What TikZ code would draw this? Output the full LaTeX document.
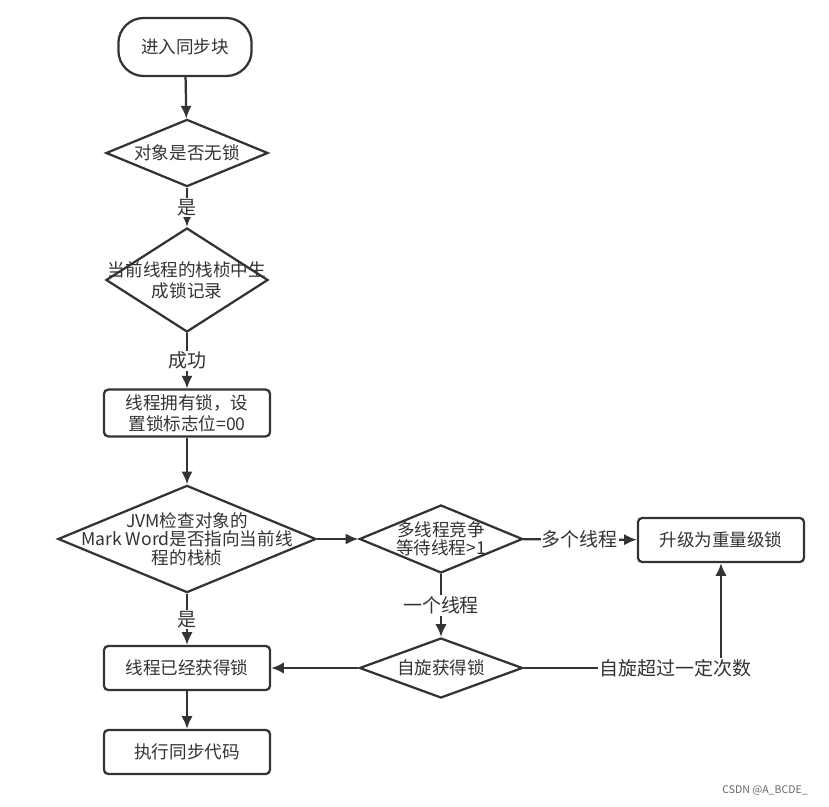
\documentclass[tikz,border=0pt]{standalone}
\usepackage{fontspec}
\setmainfont{Noto Sans CJK SC}
\usetikzlibrary{shapes.geometric,positioning,arrows.meta}
\tikzset{>={Latex[length=9pt,width=8pt]}}
\colorlet{linec}{black!80}
\tikzset{
  box/.style = {draw=linec,line width=1.6pt,rounded corners=3pt,minimum width=4.15cm,minimum height=1.1cm,align=center},
  decide/.style = {draw=linec,line width=1.6pt,shape=diamond,inner sep=0pt},
  flow/.style = {->,draw=linec,line width=1.6pt},
  tag/.style = {fill=white,inner sep=1pt,text=linec,font=\fontsize{13.5}{15}\selectfont}
}

\begin{document}
\begin{tikzpicture}[x=0.025cm,y=-0.025cm,font=\fontsize{12.5}{15}\selectfont,text=linec]
  \useasboundingbox (0,0) rectangle (829,807);
  \node[box,rounded corners=18pt,minimum width=3.33cm,minimum height=1.45cm] (start) at (185,47) {进入同步块};
  \node[decide,minimum width=4.05cm,minimum height=1.68cm,label=center:{对象是否无锁}] (free) at (187,153) {};
  \node[decide,minimum width=4.05cm,minimum height=2.6cm,label={[align=center]center:当前线程的栈桢中生\\成锁记录}] (record) at (187,280) {};
  \node[box] (own) at (187,413) {线程拥有锁，设\\置锁标志位=00};
  \node[decide,minimum width=6.45cm,minimum height=2.68cm,label={[align=center,font=\fontsize{12.5}{13}\selectfont]center:JVM检查对象的\\Mark Word是否指向当前线\\程的栈桢}] (check) at (187,539) {};
  \node[decide,minimum width=4.08cm,minimum height=1.7cm,label={[align=center,font=\fontsize{12.5}{13}\selectfont]center:多线程竞争\\等待线程>1}] (race) at (441,539) {};
  \node[box] (heavy) at (721,540) {升级为重量级锁};
  \node[box] (got) at (187,668) {线程已经获得锁};
  \node[decide,minimum width=4.08cm,minimum height=1.5cm,label=center:{自旋获得锁}] (spin) at (441,668) {};
  \node[box] (run) at (187,752) {执行同步代码};
  \coordinate (corner) at (721,668);

  \draw[flow] (start) -- (free);
  \draw[flow] (free) -- node[tag] {是} (record);
  \draw[flow] (record) -- node[tag] {成功} (own);
  \draw[flow] (own) -- (check);
  \draw[flow] (check) -- (race);
  \draw[flow] (race) -- node[tag] {多个线程} (heavy);
  \draw[flow] (check) -- node[tag] {是} (got);
  \draw[flow] (race) -- node[tag] {一个线程} (spin);
  \draw[flow] (spin) -- (got);
  \draw[flow] (spin) -- (corner) node[tag,pos=0.77] {自旋超过一定次数} -- (heavy);
  \draw[flow] (got) -- (run);

  \node[text=black!60,font=\fontsize{7.5}{8}\selectfont] (mark) at (765,790) {CSDN @A\_BCDE\_};
\end{tikzpicture}
\end{document}
